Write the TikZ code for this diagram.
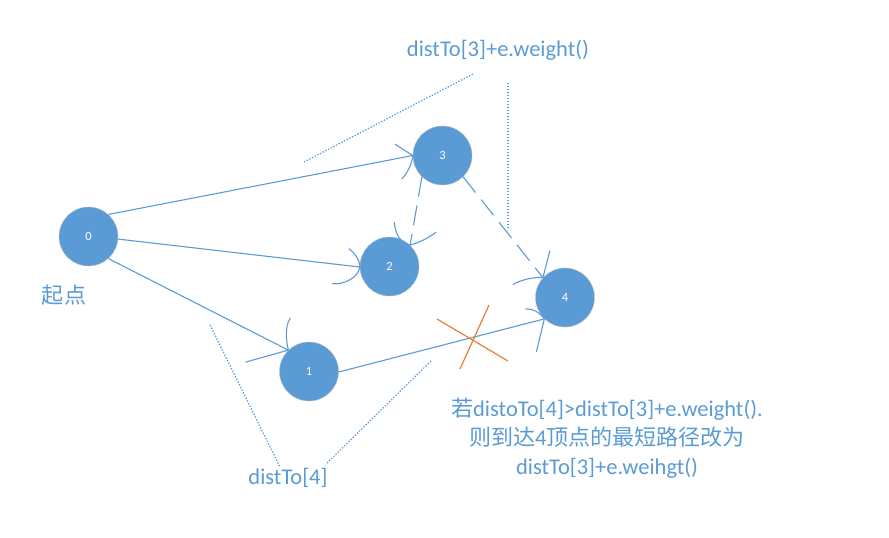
\documentclass[tikz,border=0pt]{standalone}
\usepackage{fontspec}
\setmainfont{Carlito}
\newfontfamily\cjk{Noto Sans CJK SC}[Scale=0.98]
\definecolor{nblue}{HTML}{5B9BD5}
\definecolor{xorange}{HTML}{ED7D31}
\tikzset{
  vertex/.style={circle, fill=nblue, draw=black!25, line width=0.4pt, minimum size=59pt, inner sep=0pt, text=white, font=\fontsize{12.5}{14}\selectfont},
  edge/.style={draw=nblue, line width=1.1pt},
  dashedge/.style={edge, dash pattern=on 20pt off 9pt},
  barb/.style={draw=nblue, line width=1.1pt},
  dotline/.style={draw=nblue, line width=1.2pt, dash pattern=on 1.4pt off 1.6pt},
  lbl/.style={text=nblue, font=\fontsize{22.5}{29}\selectfont, inner sep=0pt},
  cross/.style={draw=xorange, line width=1.2pt}
}
\begin{document}
\begin{tikzpicture}[x=1pt,y=-1pt]
\useasboundingbox (0,0) rectangle (889,538);
% nodes
\node[vertex] (n0) at (88.5,236.5) {0};
\node[vertex] (n3) at (442.5,155.5) {3};
\node[vertex] (n2) at (389.5,266.5) {2};
\node[vertex] (n1) at (309,371.5) {1};
\node[vertex] (n4) at (565,297.5) {4};
% edges
\draw[edge] (n0.48) -- (n3.west);
\draw[edge] (n0.-5) -- (n2.181);
\draw[edge] (n0.-48) -- (n1.134);
\draw[edge] (n1.-1) -- (n4.226);
\draw[dashedge] (n3.226) -- (n2.46);
\draw[dashedge] (n3.-46) -- (n4.138);
% barbs at 3
\draw[barb] (n3.west) ++(-18,-11.5) -- (n3.west);
\draw[barb] (n3.west) .. controls +(-1,9) and +(5,-5) .. ++(-11,23.5);
% barbs at 2 (from 0)
\draw[barb] (n2.181) ++(-11,-18.5) .. controls +(6,5) and +(0,-8) .. (n2.181)
  .. controls +(-1,10) and +(12,2) .. ++(-28,16.5);
% barbs at 2 (from 3)
\draw[barb] (n2.46) ++(-16,-23) .. controls +(2,14) and +(-10,-3) .. (n2.46)
  .. controls +(10,-3) and +(-8,6) .. ++(26,-13);
% barbs at 1
\draw[barb] (n1.134) ++(2,-32) .. controls +(-6,8) and +(-2,-8) .. (n1.134);
\draw[barb] (n1.134) -- ++(-43,12);
% barbs at 4 (from 1)
\draw[barb] (n4.226) ++(-19,-10) .. controls +(10,0) and +(-4,-5) .. (n4.226);
\draw[barb] (n4.226) -- ++(-8,33);
% barbs at 4 (from 3)
\draw[barb] (n4.138) ++(-30,7) .. controls +(8,-5) and +(-8,-1) .. (n4.138);
\draw[barb] (n4.138) -- ++(7,-27);
% dotted guides
\draw[dotline] (304,162) -- (473,74);
\draw[dotline] (508,83) -- (508,230);
\draw[dotline] (210,325) -- (280,467);
\draw[dotline] (327,463) -- (431,361);
% orange cross
\draw[cross] (437,319) -- (508,361);
\draw[cross] (489,305) -- (460,369);
% labels
\node[lbl] (t1) at (498,50) {distTo[3]+e.weight()};
\node[lbl] (t0) at (64,295) {\cjk 起点};
\node[lbl] (t4) at (288,478) {distTo[4]};
\node[lbl, align=center] (note) at (607,438) {{\cjk 若}distoTo[4]>distTo[3]+e.weight().\\{\cjk 则到达}4{\cjk 顶点的最短路径改为}\\distTo[3]+e.weihgt()};
\end{tikzpicture}
\end{document}
